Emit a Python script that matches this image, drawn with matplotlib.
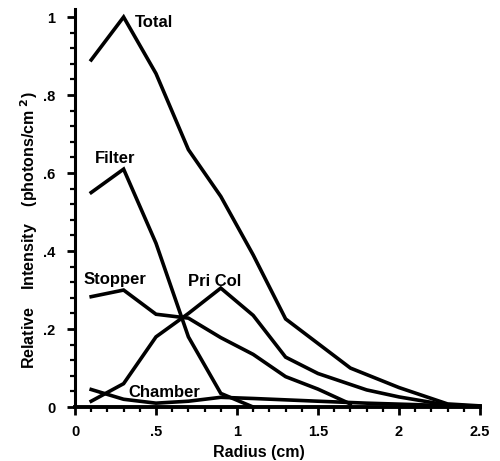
import matplotlib
matplotlib.use("Agg")
import matplotlib.pyplot as plt
from matplotlib.ticker import MultipleLocator, FuncFormatter

plt.rcParams['font.family'] = ['Liberation Sans', 'DejaVu Sans']
plt.rcParams['font.weight'] = 'bold'

# Relative intensity vs radius for each source component
total_r = [0.1, 0.3, 0.5, 0.7, 0.9, 1.1, 1.3, 1.7, 2.0, 2.3, 2.5]
total_i = [0.89, 1.0, 0.855, 0.66, 0.54, 0.39, 0.226, 0.10, 0.05, 0.008, 0.003]

filter_r = [0.1, 0.3, 0.5, 0.7, 0.9, 1.1]
filter_i = [0.55, 0.61, 0.42, 0.18, 0.035, 0.0]

stopper_r = [0.1, 0.3, 0.5, 0.7, 0.9, 1.1, 1.3, 1.5, 1.7]
stopper_i = [0.283, 0.30, 0.238, 0.228, 0.178, 0.135, 0.078, 0.046, 0.008]

pricol_r = [0.1, 0.3, 0.5, 0.7, 0.9, 1.1, 1.3, 1.5, 1.8, 2.0, 2.3, 2.5]
pricol_i = [0.015, 0.06, 0.18, 0.24, 0.305, 0.235, 0.128, 0.086, 0.044, 0.026, 0.005, 0.002]

chamber_r = [0.1, 0.3, 0.5, 0.7, 0.9, 1.1, 1.5, 1.8, 2.2, 2.5]
chamber_i = [0.045, 0.02, 0.01, 0.015, 0.025, 0.022, 0.015, 0.01, 0.005, 0.002]

fig = plt.figure(figsize=(5.0, 4.61), dpi=100)
ax = fig.add_axes([0.15, 0.117, 0.81, 0.863])

lw = 2.6
for r, i in [(total_r, total_i), (filter_r, filter_i), (stopper_r, stopper_i),
             (pricol_r, pricol_i), (chamber_r, chamber_i)]:
    ax.plot(r, i, color='black', lw=lw, solid_joinstyle='miter', clip_on=False)

# Curve labels
txt = dict(fontsize=12, fontweight='bold', color='black', va='center', ha='left')
ax.text(0.37, 0.985, "Total", **txt)
ax.text(0.123, 0.638, "Filter", **txt)
ax.text(0.05, 0.326, "Stopper", **txt)
ax.text(0.70, 0.321, "Pri Col", **txt)
ax.text(0.327, 0.038, "Chamber", **txt)

ax.set_xlim(0, 2.5)
ax.set_ylim(0, 1.02)

ax.spines['top'].set_visible(False)
ax.spines['right'].set_visible(False)
ax.spines['left'].set_linewidth(2.2)
ax.spines['bottom'].set_linewidth(2.8)

ax.xaxis.set_major_locator(MultipleLocator(0.5))
ax.xaxis.set_minor_locator(MultipleLocator(0.1))
ax.yaxis.set_major_locator(MultipleLocator(0.2))
ax.yaxis.set_minor_locator(MultipleLocator(0.04))


def short_fmt(v, pos):
    s = f"{v:g}"
    if s.startswith("0."):
        s = s[1:]
    return s


ax.xaxis.set_major_formatter(FuncFormatter(short_fmt))
ax.yaxis.set_major_formatter(FuncFormatter(short_fmt))

ax.tick_params(which='major', direction='out', length=6, width=2.0, labelsize=10.5)
ax.tick_params(axis='y', which='major', pad=8)
ax.tick_params(axis='x', which='major', pad=7)
ax.tick_params(which='minor', direction='out', length=3.5, width=1.6)

ax.set_xlabel("Radius (cm)", fontsize=11.5, fontweight='bold')
ax.xaxis.set_label_coords(0.454, -0.095)
ax.set_ylabel("Relative    Intensity    (photons/cm$^{\\ 2}$)", fontsize=11.5,
              fontweight='bold', va='center')
ax.yaxis.set_label_coords(-0.113, 0.445)

fig.savefig("out.png", dpi=100)
